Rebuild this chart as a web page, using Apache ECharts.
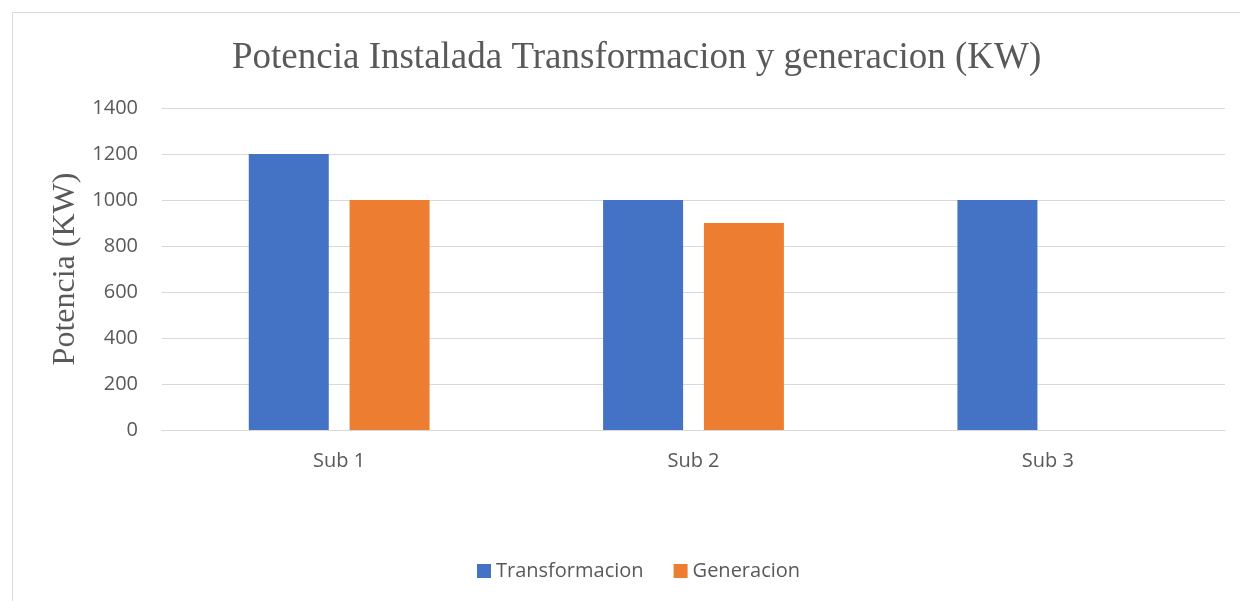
<!DOCTYPE html>
<html>
<head>
<meta charset="utf-8">
<script src="https://cdn.jsdelivr.net/npm/echarts@6/dist/echarts.min.js"></script>
<style>
  html, body { margin: 0; padding: 0; background: #fff; }
  #chart { width: 1240px; height: 601px; }
</style>
</head>
<body>
<div id="chart"></div>
<script>
// datos
var categories = ['Sub 1', 'Sub 2', 'Sub 3'];
var transformacion = [1200, 1000, 1000];
var generacion = [1000, 900, null];
var seriesNames = ['Transformacion', 'Generacion'];

var chart = echarts.init(document.getElementById('chart'));

var option = {
  animation: false,
  color: ['#4472C4', '#ED7D31'],
  graphic: [{
    type: 'rect',
    shape: { x: 12.5, y: 12.5, width: 1240, height: 600 },
    style: { fill: 'none', stroke: '#d9d9d9', lineWidth: 1 },
    silent: true
  }],
  title: {
    text: 'Potencia Instalada Transformacion y generacion (KW)',
    left: 227,
    top: 35,
    textStyle: { fontFamily: 'Liberation Serif', fontSize: 37, fontWeight: 'normal', color: '#595959' }
  },
  legend: {
    data: seriesNames,
    bottom: 15,
    left: 472,
    itemWidth: 14,
    itemHeight: 14,
    itemGap: 30,
    icon: 'rect',
    textStyle: { fontFamily: 'Open Sans', fontSize: 20, color: '#595959' }
  },
  grid: { left: 162, right: 15, top: 108, bottom: 171 },
  xAxis: {
    type: 'category',
    data: categories,
    axisTick: { show: false },
    axisLine: { lineStyle: { color: '#d9d9d9', width: 1 } },
    axisLabel: { fontFamily: 'Open Sans', fontSize: 20, color: '#595959', margin: 21 }
  },
  yAxis: {
    type: 'value',
    min: 0,
    max: 1400,
    interval: 200,
    name: 'Potencia (KW)',
    nameLocation: 'middle',
    nameGap: 80,
    nameTextStyle: { fontFamily: 'Liberation Serif', fontSize: 32, color: '#595959' },
    axisLine: { show: false },
    axisTick: { show: false },
    splitLine: { lineStyle: { color: '#d9d9d9', width: 1 } },
    axisLabel: {
      fontFamily: 'Open Sans', fontSize: 20, color: '#595959', margin: 24,
      formatter: function (v) { return String(v); }
    }
  },
  series: [
    {
      name: seriesNames[0],
      type: 'bar',
      data: transformacion,
      barWidth: 80,
      barGap: '26%'
    },
    {
      name: seriesNames[1],
      type: 'bar',
      data: generacion,
      barWidth: 80,
      barGap: '26%'
    }
  ]
};

chart.setOption(option);
</script>
</body>
</html>
